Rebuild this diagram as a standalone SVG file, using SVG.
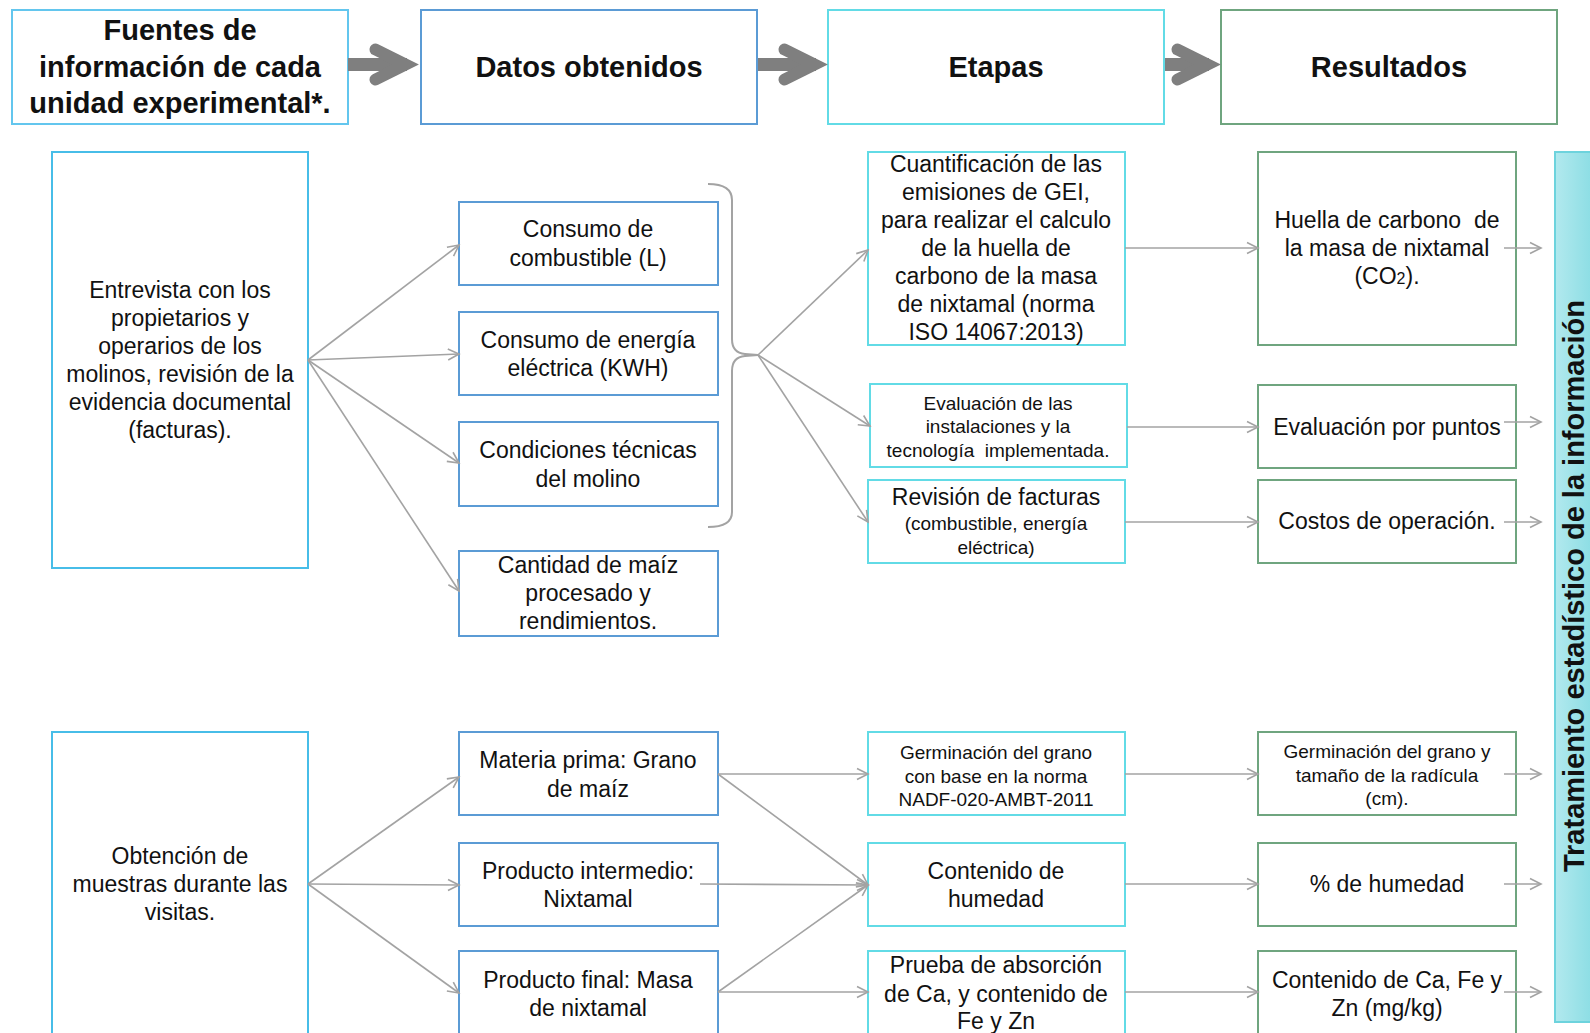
<svg xmlns="http://www.w3.org/2000/svg" width="1590" height="1033" viewBox="0 0 1590 1033">
<style>
text{font-family:"Liberation Sans",Arial,sans-serif;fill:#111;text-anchor:middle}
.h{font-size:29px;font-weight:bold}
.t{font-size:23px}
.s{font-size:19px}
.box{fill:#fff;stroke-width:2}
.src{stroke:#47bde8}
.hsrc{stroke:#63c6ee}
.dat{stroke:#5b9bd5}
.eta{stroke:#62dbe6}
.res{stroke:#6fa57f}
.ln{fill:none;stroke:#a3a3a3;stroke-width:1.6;marker-end:url(#oa)}
.brace{fill:none;stroke:#a3a3a3;stroke-width:2}
.big{fill:none;stroke:#7f7f7f;stroke-width:12}
</style>
<defs>
<marker id="oa" markerUnits="userSpaceOnUse" markerWidth="14" markerHeight="14" viewBox="0 0 14 14" refX="12" refY="7" orient="auto">
<path d="M1,1.5 L12,7 L1,12.5" fill="none" stroke="#a3a3a3" stroke-width="1.6"/>
</marker>
<linearGradient id="bar" x1="0" y1="0" x2="1" y2="0">
<stop offset="0" stop-color="#b2e9ee"/>
<stop offset="1" stop-color="#84dbe2"/>
</linearGradient>
<g id="chev"><path d="M-43.5,-15 L-13.5,0 L-43.5,15" stroke-linecap="round" stroke-linejoin="miter" stroke-miterlimit="10"/></g>
</defs>

<!-- header -->
<g id="h1"><rect class="box hsrc" x="12" y="10" width="336" height="114"/>
<text class="h" x="180" y="40">Fuentes de</text><text class="h" x="180" y="77">información de cada</text><text class="h" x="180" y="113">unidad experimental*.</text></g>
<g id="h2"><rect class="box dat" x="421" y="10" width="336" height="114"/><text class="h" x="589" y="77">Datos obtenidos</text></g>
<g id="h3"><rect class="box eta" x="828" y="10" width="336" height="114"/><text class="h" x="996" y="77">Etapas</text></g>
<g id="h4"><rect class="box res" x="1221" y="10" width="336" height="114"/><text class="h" x="1389" y="77">Resultados</text></g>

<g id="header-arrows" class="big">
<line x1="348" y1="64.5" x2="407" y2="64.5" stroke-width="13"/>
<use href="#chev" transform="translate(419,64.5)"/>
<line x1="758" y1="64.5" x2="816" y2="64.5" stroke-width="13"/>
<use href="#chev" transform="translate(828,64.5)"/>
<line x1="1165" y1="64.5" x2="1209" y2="64.5" stroke-width="13"/>
<use href="#chev" transform="translate(1221,64.5)"/>
</g>

<!-- stat bar -->
<g id="stat"><rect x="1555" y="152" width="45" height="870" fill="url(#bar)" stroke="#6dd3dd" stroke-width="2"/>
<text class="h" transform="translate(1584,586) rotate(-90)" x="0" y="0">Tratamiento estadístico de la información</text></g>

<!-- top section -->
<g id="srcA"><rect class="box src" x="52" y="152" width="256" height="416"/>
<text class="t" x="180" y="298">Entrevista con los</text><text class="t" x="180" y="326">propietarios y</text><text class="t" x="180" y="354">operarios de los</text><text class="t" x="180" y="382">molinos, revisión de la</text><text class="t" x="180" y="410">evidencia documental</text><text class="t" x="180" y="438">(facturas).</text></g>

<g id="d1"><rect class="box dat" x="459" y="202" width="259" height="83"/><text class="t" x="588" y="237">Consumo de</text><text class="t" x="588" y="266">combustible (L)</text></g>
<g id="d2"><rect class="box dat" x="459" y="312" width="259" height="83"/><text class="t" x="588" y="348">Consumo de energía</text><text class="t" x="588" y="376">eléctrica (KWH)</text></g>
<g id="d3"><rect class="box dat" x="459" y="422" width="259" height="84"/><text class="t" x="588" y="458">Condiciones técnicas</text><text class="t" x="588" y="487">del molino</text></g>
<g id="d4"><rect class="box dat" x="459" y="551" width="259" height="85"/><text class="t" x="588" y="573">Cantidad de maíz</text><text class="t" x="588" y="601">procesado y</text><text class="t" x="588" y="629">rendimientos.</text></g>

<g id="e1"><rect class="box eta" x="868" y="152" width="257" height="193"/>
<text class="t" x="996" y="172">Cuantificación de las</text><text class="t" x="996" y="200">emisiones de GEI,</text><text class="t" x="996" y="228">para realizar el calculo</text><text class="t" x="996" y="256">de la huella de</text><text class="t" x="996" y="284">carbono de la masa</text><text class="t" x="996" y="312">de nixtamal (norma</text><text class="t" x="996" y="340">ISO 14067:2013)</text></g>
<g id="e2"><rect class="box eta" x="870" y="384" width="257" height="83"/>
<text class="s" x="998" y="410">Evaluación de las</text><text class="s" x="998" y="433">instalaciones y la</text><text class="s" x="998" y="457" xml:space="preserve" style="white-space:pre">tecnología  implementada.</text></g>
<g id="e3"><rect class="box eta" x="868" y="480" width="257" height="83"/>
<text class="t" x="996" y="505">Revisión de facturas</text><text class="s" x="996" y="530">(combustible, energía</text><text class="s" x="996" y="554">eléctrica)</text></g>

<g id="r1"><rect class="box res" x="1258" y="152" width="258" height="193"/>
<text class="t" x="1387" y="228" xml:space="preserve" style="white-space:pre">Huella de carbono  de</text><text class="t" x="1387" y="256">la masa de nixtamal</text><text class="t" x="1387" y="284">(CO<tspan font-size="16">2</tspan>).</text></g>
<g id="r2"><rect class="box res" x="1258" y="385" width="258" height="83"/><text class="t" x="1387" y="435">Evaluación por puntos</text></g>
<g id="r3"><rect class="box res" x="1258" y="480" width="258" height="83"/><text class="t" x="1387" y="529">Costos de operación.</text></g>

<!-- bottom section -->
<g id="srcB"><rect class="box src" x="52" y="732" width="256" height="330"/>
<text class="t" x="180" y="864">Obtención de</text><text class="t" x="180" y="892">muestras durante las</text><text class="t" x="180" y="920">visitas.</text></g>

<g id="d5"><rect class="box dat" x="459" y="732" width="259" height="83"/><text class="t" x="588" y="768">Materia prima: Grano</text><text class="t" x="588" y="797">de maíz</text></g>
<g id="d6"><rect class="box dat" x="459" y="843" width="259" height="83"/><text class="t" x="588" y="879">Producto intermedio:</text><text class="t" x="588" y="907">Nixtamal</text></g>
<g id="d7"><rect class="box dat" x="459" y="951" width="259" height="110"/><text class="t" x="588" y="988">Producto final: Masa</text><text class="t" x="588" y="1016">de nixtamal</text></g>

<g id="e4"><rect class="box eta" x="868" y="732" width="257" height="83"/>
<text class="s" x="996" y="759">Germinación del grano</text><text class="s" x="996" y="783">con base en la norma</text><text class="s" x="996" y="806">NADF-020-AMBT-2011</text></g>
<g id="e5"><rect class="box eta" x="868" y="843" width="257" height="83"/><text class="t" x="996" y="879">Contenido de</text><text class="t" x="996" y="907">humedad</text></g>
<g id="e6"><rect class="box eta" x="868" y="951" width="257" height="110"/><text class="t" x="996" y="973">Prueba de absorción</text><text class="t" x="996" y="1002">de Ca, y contenido de</text><text class="t" x="996" y="1029">Fe y Zn</text></g>

<g id="r4"><rect class="box res" x="1258" y="732" width="258" height="83"/>
<text class="s" x="1387" y="758">Germinación del grano y</text><text class="s" x="1387" y="782">tamaño de la radícula</text><text class="s" x="1387" y="805">(cm).</text></g>
<g id="r5"><rect class="box res" x="1258" y="843" width="258" height="83"/><text class="t" x="1387" y="892">% de humedad</text></g>
<g id="r6"><rect class="box res" x="1258" y="951" width="258" height="110"/><text class="t" x="1387" y="988">Contenido de Ca, Fe y</text><text class="t" x="1387" y="1016">Zn (mg/kg)</text></g>

<!-- connectors -->
<g id="connectors">
<path class="brace" d="M708,184 Q732,184 732,200 L732,339 Q732,353 745,354 L758,355 M758,355 L745,356 Q732,357 732,371 L732,512 Q732,527 708,527"/>
<line class="ln" x1="308" y1="360" x2="459" y2="245"/>
<line class="ln" x1="308" y1="360" x2="459" y2="354"/>
<line class="ln" x1="308" y1="360" x2="459" y2="463"/>
<line class="ln" x1="308" y1="360" x2="459" y2="591"/>
<line class="ln" x1="758" y1="355" x2="868" y2="250"/>
<line class="ln" x1="758" y1="355" x2="870" y2="426"/>
<line class="ln" x1="758" y1="355" x2="868" y2="522"/>
<line class="ln" x1="1125" y1="248" x2="1258" y2="248"/>
<line class="ln" x1="1127" y1="427" x2="1258" y2="427"/>
<line class="ln" x1="1125" y1="522" x2="1258" y2="522"/>
<line class="ln" x1="1504" y1="248" x2="1541" y2="248"/>
<line class="ln" x1="1504" y1="422" x2="1541" y2="422"/>
<line class="ln" x1="1504" y1="522" x2="1541" y2="522"/>
<line class="ln" x1="308" y1="884" x2="459" y2="777"/>
<line class="ln" x1="308" y1="884" x2="459" y2="885"/>
<line class="ln" x1="308" y1="884" x2="459" y2="993"/>
<line class="ln" x1="718" y1="774" x2="868" y2="774"/>
<line class="ln" x1="718" y1="774" x2="868" y2="885"/>
<line class="ln" x1="700" y1="884" x2="868" y2="885"/>
<line class="ln" x1="718" y1="992" x2="868" y2="885"/>
<line class="ln" x1="718" y1="992" x2="868" y2="992"/>
<line class="ln" x1="1125" y1="774" x2="1258" y2="774"/>
<line class="ln" x1="1125" y1="884" x2="1258" y2="884"/>
<line class="ln" x1="1125" y1="992" x2="1258" y2="992"/>
<line class="ln" x1="1504" y1="774" x2="1541" y2="774"/>
<line class="ln" x1="1504" y1="884" x2="1541" y2="884"/>
<line class="ln" x1="1504" y1="992" x2="1541" y2="992"/>
</g>
</svg>
